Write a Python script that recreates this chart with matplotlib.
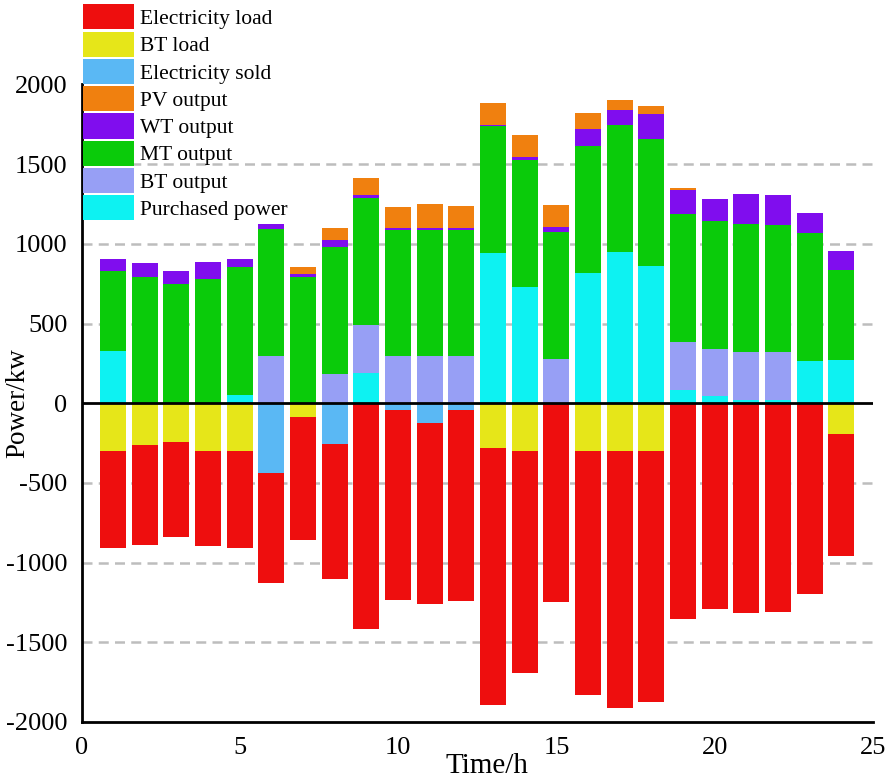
import matplotlib
matplotlib.use("Agg")
import matplotlib.pyplot as plt
import numpy as np

plt.rcParams['font.family'] = ['Liberation Serif', 'DejaVu Serif']
plt.rcParams['axes.unicode_minus'] = False

hours = list(range(1, 25))
purchased = [330, 0, 0, 0, 52, 0, 0, 0, 190, 0, 0, 0, 942, 727, 0, 817, 949, 859, 86, 44, 19, 19, 265, 270]
bt_output = [0, 0, 0, 0, 0, 295, 0, 182, 299, 295, 295, 295, 0, 0, 276, 0, 0, 0, 301, 299, 301, 301, 0, 0]
mt_output = [502, 790, 748, 777, 801, 796, 792, 800, 800, 794, 794, 794, 797, 801, 798, 796, 800, 800, 802, 800, 802, 798, 801, 568]
wt_output = [70, 92, 82, 109, 50, 31, 20, 40, 15, 10, 10, 10, 8, 14, 29, 105, 88, 157, 146, 140, 188, 188, 130, 119]
pv_output = [0, 0, 0, 0, 0, 0, 40, 75, 107, 130, 153, 140, 140, 143, 138, 105, 67, 52, 17, 0, 0, 0, 0, 0]

bt_load = [300, 260, 240, 300, 300, 0, 85, 0, 0, 0, 0, 0, 280, 300, 0, 300, 300, 300, 0, 0, 0, 0, 0, 195]
elec_sold = [0, 0, 0, 0, 0, 440, 0, 253, 0, 40, 125, 45, 0, 0, 0, 0, 0, 0, 0, 0, 0, 0, 0, 0]
elec_load = [606, 628, 597, 594, 607, 688, 770, 850, 1415, 1192, 1132, 1198, 1614, 1390, 1246, 1532, 1610, 1575, 1355, 1288, 1315, 1312, 1198, 766]

colors = {
    'Electricity load': '#EE0E0E',
    'BT load': '#E6E619',
    'Electricity sold': '#5AB8F4',
    'PV output': '#F0800F',
    'WT output': '#800DEE',
    'MT output': '#0ACB0A',
    'BT output': '#979FF5',
    'Purchased power': '#0DF2F2',
}

fig = plt.figure(figsize=(8.86, 7.82), dpi=100)
ax = fig.add_axes([81.5/886, 1-722/782, (873-81.5)/886, (722-84.5)/782])

x = np.array(hours)
w = 0.82

for yv in [-1500, -1000, -500, 500, 1000, 1500]:
    ax.axhline(yv, color='#BDBDBD', lw=1.8, ls=(0, (4, 2.5)), zorder=0)

handles = {}
bottom = np.zeros(24)
for name, vals in [('Purchased power', purchased), ('BT output', bt_output),
                   ('MT output', mt_output), ('WT output', wt_output), ('PV output', pv_output)]:
    v = np.array(vals, dtype=float)
    handles[name] = ax.bar(x, v, w, bottom=bottom, color=colors[name], zorder=2, lw=0)
    bottom += v

neg = np.zeros(24)
for name, vals in [('BT load', bt_load), ('Electricity sold', elec_sold)]:
    v = np.array(vals, dtype=float)
    handles[name] = ax.bar(x, -v, w, bottom=neg, color=colors[name], zorder=2, lw=0)
    neg -= v
v = np.array(elec_load, dtype=float)
handles['Electricity load'] = ax.bar(x, -v, w, bottom=neg, color=colors['Electricity load'], zorder=2, lw=0)

ax.axhline(0, color='black', lw=2, zorder=3)

ax.set_xlim(0, 25)
ax.set_ylim(-2000, 2000)
ax.set_xticks([0, 5, 10, 15, 20, 25])
ax.set_yticks([-2000, -1500, -1000, -500, 0, 500, 1000, 1500, 2000])
ax.tick_params(axis='both', length=0, labelsize=19, colors='black')
ax.tick_params(axis='y', pad=10)
ax.tick_params(axis='x', pad=11)
for s in ['top', 'right']:
    ax.spines[s].set_visible(False)
for s in ['left', 'bottom']:
    ax.spines[s].set_linewidth(2)
    ax.spines[s].set_color('black')

fig.text(486.5/886, 1-773/782, 'Time/h', fontsize=21, ha='center', va='baseline')
fig.text(18/886, 1-403.5/782, 'Power/kw', fontsize=19.5, ha='center', va='center', rotation=90)

order = ['Electricity load', 'BT load', 'Electricity sold', 'PV output', 'WT output',
         'MT output', 'BT output', 'Purchased power']
leg = fig.legend([handles[k] for k in order], order, loc='upper left',
                 bbox_to_anchor=(80/886, 1-1/782), bbox_transform=fig.transFigure,
                 fontsize=15.5, frameon=False,
                 borderpad=0.15, handlelength=2.35, handleheight=1.42, labelspacing=0.1,
                 handletextpad=0.3, borderaxespad=0)
leg.set_zorder(5)

fig.savefig('out.png', dpi=100)
